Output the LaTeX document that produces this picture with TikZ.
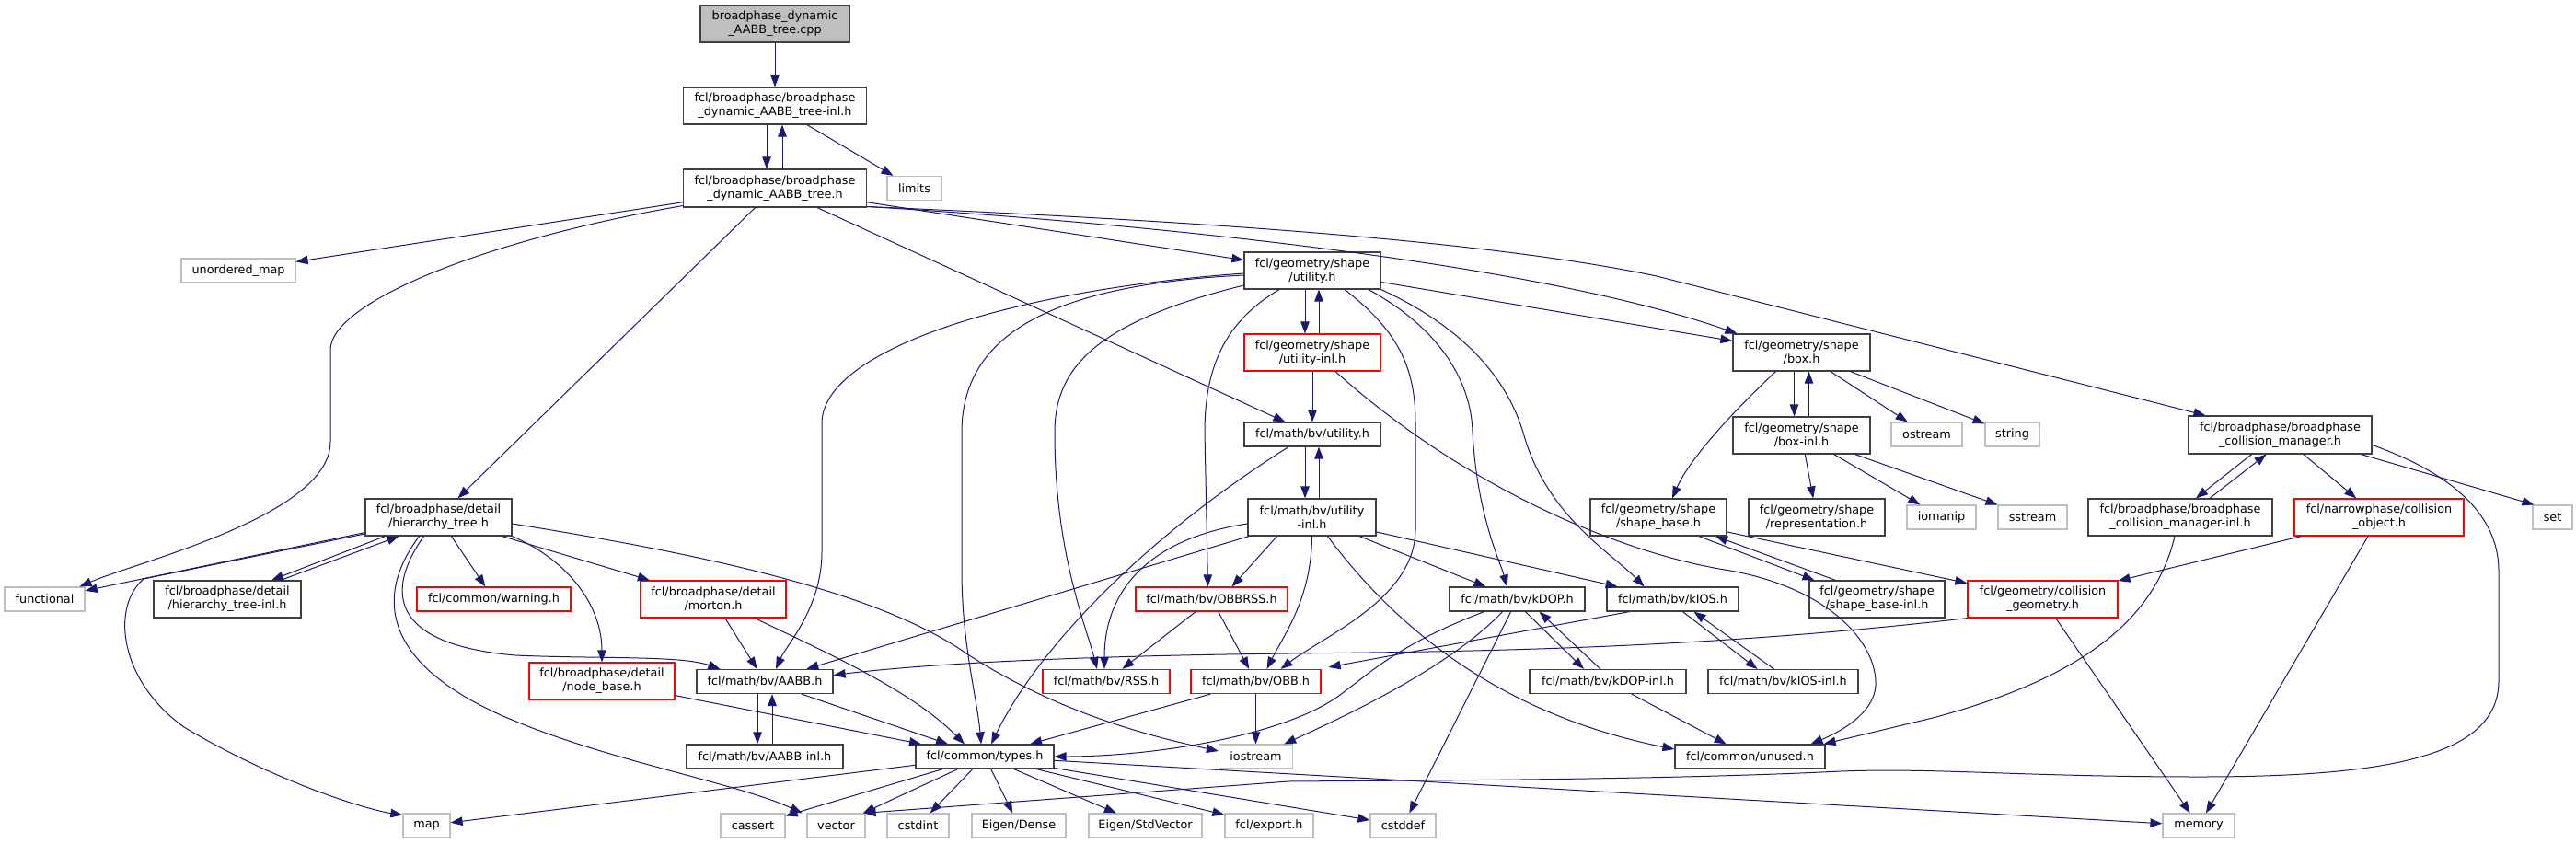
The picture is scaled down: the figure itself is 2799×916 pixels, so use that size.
\documentclass[tikz,border=0pt]{standalone}
\usepackage{fontspec}
\setmainfont{DejaVu Sans}
\usetikzlibrary{arrows.meta,calc}
\definecolor{edgec}{HTML}{191970}
\definecolor{bord}{HTML}{404040}
\definecolor{rbord}{HTML}{FF0000}
\definecolor{gbord}{HTML}{BFBFBF}
\definecolor{cppfill}{HTML}{BFBFBF}
\newcommand\nfs{\fontsize{12.8}{15}\selectfont}
\tikzset{
  base/.style={rectangle, inner sep=0pt, align=center, font=\nfs, line width=1.2pt, fill=white},
  bnode/.style={base, draw=bord},
  rnode/.style={base, draw=rbord},
  gnode/.style={base, draw=gbord, minimum height=26},
  cppnode/.style={base, draw=bord, fill=cppfill},
  edg/.style={draw=edgec, line width=1pt, -{Triangle[length=13pt,width=9.5pt]}},
}
\begin{document}
\begin{tikzpicture}[x=1pt,y=-1pt]
\useasboundingbox (0,0) rectangle (2799,916);
% ---------- nodes
\node[cppnode, minimum width=162, minimum height=40] (cpp) at (842,26) {broadphase\_dynamic\\\_AABB\_tree.cpp};
\node[bnode, minimum width=199, minimum height=40] (inl) at (842,115) {fcl/broadphase/broadphase\\\_dynamic\_AABB\_tree-inl.h};
\node[bnode, minimum width=199, minimum height=41] (tree) at (842,204.5) {fcl/broadphase/broadphase\\\_dynamic\_AABB\_tree.h};
\node[gnode, minimum width=59] (limits) at (993.5,204.5) {limits};
\node[gnode, minimum width=124] (umap) at (259,294) {unordered\_map};
\node[gnode, minimum width=87] (func) at (48.5,651) {functional};
\node[bnode, minimum width=148, minimum height=40] (gsu) at (1426,294) {fcl/geometry/shape\\/utility.h};
\node[rnode, minimum width=148, minimum height=40] (gui) at (1426,383) {fcl/geometry/shape\\/utility-inl.h};
\node[bnode, minimum width=149, minimum height=40] (box) at (1957.5,383) {fcl/geometry/shape\\/box.h};
\node[bnode, minimum width=148, minimum height=26] (mbu) at (1426,472) {fcl/math/bv/utility.h};
\node[bnode, minimum width=139, minimum height=40] (mbui) at (1425.5,562) {fcl/math/bv/utility\\-inl.h};
\node[bnode, minimum width=149, minimum height=40] (boxi) at (1957.5,473) {fcl/geometry/shape\\/box-inl.h};
\node[gnode, minimum width=77] (ostream) at (2093.5,472) {ostream};
\node[gnode, minimum width=59] (string) at (2186.5,472) {string};
\node[bnode, minimum width=199, minimum height=41] (cm) at (2477.5,472.5) {fcl/broadphase/broadphase\\\_collision\_manager.h};
\node[bnode, minimum width=159, minimum height=40] (ht) at (476.5,562) {fcl/broadphase/detail\\/hierarchy\_tree.h};
\node[bnode, minimum width=160, minimum height=40] (hti) at (247,651) {fcl/broadphase/detail\\/hierarchy\_tree-inl.h};
\node[rnode, minimum width=167, minimum height=26] (warn) at (536.5,651) {fcl/common/warning.h};
\node[rnode, minimum width=158, minimum height=40] (morton) at (775,651) {fcl/broadphase/detail\\/morton.h};
\node[rnode, minimum width=158, minimum height=40] (nbase) at (654,740) {fcl/broadphase/detail\\/node\_base.h};
\node[gnode, minimum width=51] (map) at (463.5,897) {map};
\node[bnode, minimum width=148, minimum height=26] (aabb) at (831,740.5) {fcl/math/bv/AABB.h};
\node[bnode, minimum width=170, minimum height=26] (aabbi) at (831,822) {fcl/math/bv/AABB-inl.h};
\node[bnode, minimum width=150, minimum height=26] (types) at (1070,822) {fcl/common/types.h};
\node[rnode, minimum width=138, minimum height=26] (rss) at (1202,740.5) {fcl/math/bv/RSS.h};
\node[rnode, minimum width=141, minimum height=26] (obb) at (1364.5,740.5) {fcl/math/bv/OBB.h};
\node[rnode, minimum width=165, minimum height=26] (obbrss) at (1316.5,651) {fcl/math/bv/OBBRSS.h};
\node[gnode, minimum width=80] (iostream) at (1364.5,822) {iostream};
\node[gnode, minimum width=70] (cassert) at (818,897) {cassert};
\node[gnode, minimum width=63] (vector) at (908.5,897) {vector};
\node[gnode, minimum width=67] (cstdint) at (997.5,897) {cstdint};
\node[gnode, minimum width=102] (edense) at (1107,897) {Eigen/Dense};
\node[gnode, minimum width=123] (estd) at (1244.5,897) {Eigen/StdVector};
\node[gnode, minimum width=96] (export) at (1379,897) {fcl/export.h};
\node[gnode, minimum width=71] (cstddef) at (1524.5,897) {cstddef};
\node[bnode, minimum width=147, minimum height=26] (kdop) at (1648.5,651) {fcl/math/bv/kDOP.h};
\node[bnode, minimum width=143, minimum height=26] (kios) at (1817.5,651) {fcl/math/bv/kIOS.h};
\node[bnode, minimum width=170, minimum height=26] (kdopi) at (1747,740.5) {fcl/math/bv/kDOP-inl.h};
\node[bnode, minimum width=163, minimum height=26] (kiosi) at (1937.5,740.5) {fcl/math/bv/kIOS-inl.h};
\node[bnode, minimum width=163, minimum height=26] (unused) at (1901.5,822) {fcl/common/unused.h};
\node[bnode, minimum width=148, minimum height=40] (sb) at (1802,562) {fcl/geometry/shape\\/shape\_base.h};
\node[bnode, minimum width=148, minimum height=40] (rep) at (1974,562) {fcl/geometry/shape\\/representation.h};
\node[bnode, minimum width=147, minimum height=40] (sbi) at (2039.5,651) {fcl/geometry/shape\\/shape\_base-inl.h};
\node[gnode, minimum width=75] (iomanip) at (2109.5,562) {iomanip};
\node[gnode, minimum width=75] (sstream) at (2208.5,562) {sstream};
\node[bnode, minimum width=200, minimum height=40] (cminl) at (2369,562) {fcl/broadphase/broadphase\\\_collision\_manager-inl.h};
\node[rnode, minimum width=184, minimum height=40] (co) at (2585,562) {fcl/narrowphase/collision\\\_object.h};
\node[gnode, minimum width=43] (set) at (2773.5,562) {set};
\node[rnode, minimum width=163, minimum height=40] (cg) at (2219.5,651) {fcl/geometry/collision\\\_geometry.h};
\node[gnode, minimum width=78] (memory) at (2389,897) {memory};
% ---------- edges
\draw[edg] (cpp) -- (inl);
\draw[edg] ($(inl.south)+(-9,0)$) -- ($(tree.north)+(-9,0)$);
\draw[edg] ($(tree.north)+(8,0)$) -- ($(inl.south)+(8,0)$);
\draw[edg] (inl) -- (limits);
\draw[edg] (tree) -- (umap);
\draw[edg] ($(tree.west)+(0,19)$) .. controls (520,262) and (359,330) .. (359,380) -- (359,480) .. controls (359,560) and (150,610) .. ($(func.north)+(38,0)$);
\draw[edg] (tree) -- (ht);
\draw[edg] (tree) -- (mbu);
\draw[edg] (tree) -- (gsu);
\draw[edg] ($(tree.east)+(0,20)$) .. controls (1200,240) and (1650,280) .. ($(box.north west)+(5,0)$);
\draw[edg] ($(tree.east)+(0,20)$) .. controls (1250,238) and (1600,258) .. (1800,300) -- ($(cm.north west)+(19,0)$);
% geometry/shape/utility.h
\draw[edg] ($(gsu.south)+(-8,0)$) -- ($(gui.north)+(-8,0)$);
\draw[edg] ($(gui.north)+(7,0)$) -- ($(gsu.south)+(7,0)$);
\draw[edg] (gui) -- (mbu);
\draw[edg] ($(gui.south)+(25,0)$) .. controls (1580,520) and (1750,600) .. (1880,620) .. controls (1990,640) and (2040,700) .. (2038,745) .. controls (2036,775) and (2000,795) .. ($(unused.north)+(66,0)$);
\draw[edg] ($(gsu.west)+(0,3)$) .. controls (1100,315) and (893,380) .. (893,460) -- (893,600) .. controls (893,660) and (855,700) .. ($(aabb.north)+(12,0)$);
\draw[edg] ($(gsu.west)+(0,5)$) .. controls (1130,310) and (1045,370) .. (1045,470) -- (1045,620) .. controls (1045,700) and (1062,760) .. ($(types.north)+(-4,0)$);
\draw[edg] ($(gsu.west)+(0,16)$) .. controls (1190,350) and (1146,400) .. (1146,470) .. controls (1146,600) and (1180,680) .. ($(rss.north)+(-10,0)$);
\draw[edg] ($(gsu.south)+(-36,0)$) .. controls (1330,350) and (1309,400) .. (1309,470) -- ($(obbrss.north)+(-4,0)$);
\draw[edg] ($(gsu.south)+(35,0)$) .. controls (1520,360) and (1538,400) .. (1538,460) -- (1538,575) .. controls (1538,650) and (1440,690) .. ($(obb.north)+(27,0)$);
\draw[edg] ($(gsu.south)+(61,0)$) .. controls (1570,360) and (1599,420) .. (1600,470) .. controls (1605,560) and (1630,610) .. ($(kdop.north)+(-11,0)$);
\draw[edg] ($(gsu.south east)+(0,0)$) .. controls (1600,360) and (1640,420) .. (1655,470) .. controls (1680,560) and (1750,600) .. ($(kios.north)+(-31,0)$);
\draw[edg] (gsu) -- (box);
% math/bv/utility
\draw[edg] ($(mbu.south)+(-8,0)$) -- ($(mbui.north)+(-7.5,0)$);
\draw[edg] ($(mbui.north)+(7.5,0)$) -- ($(mbu.south)+(7,0)$);
\draw[edg] ($(mbu.south)+(-26,0)$) .. controls (1250,580) and (1130,700) .. ($(types.north)+(7,0)$);
\draw[edg] (mbui) -- (aabb);
\draw[edg] ($(mbui.west)+(0,7)$) .. controls (1250,585) and (1200,640) .. ($(rss.north)+(-2,0)$);
\draw[edg] ($(mbui.south)+(-38,0)$) -- ($(obbrss.north)+(22,0)$);
\draw[edg] (mbui.south) .. controls (1425,650) and (1395,690) .. ($(obb.north)+(12,0)$);
\draw[edg] (mbui) -- (kdop);
\draw[edg] (mbui) -- (kios);
\draw[edg] ($(mbui.south)+(17,0)$) .. controls (1530,700) and (1650,780) .. ($(unused.west)+(0,-8)$);
% hierarchy tree
\draw[edg] (ht) -- (func);
\draw[edg] ($(ht.west)+(0,18)$) -- (156,629) .. controls (120,660) and (130,740) .. (200,790) .. controls (300,850) and (400,880) .. ($(map.north west)+(0,2)$);
\draw[edg] ($(ht.south)+(-58,0)$) -- ($(hti.north)+(48,0)$);
\draw[edg] ($(hti.north)+(58,0)$) -- ($(ht.south)+(-43,0)$);
\draw[edg] (ht) -- (warn);
\draw[edg] (ht) -- (morton);
\draw[edg] (ht.south east) .. controls (620,610) and (654,660) .. (nbase.north);
\draw[edg] ($(ht.south)+(-16,0)$) .. controls (420,640) and (420,700) .. (560,712) .. controls (650,716) and (740,712) .. ($(aabb.north west)+(26,0)$);
\draw[edg] ($(ht.south)+(-21,0)$) .. controls (405,650) and (420,720) .. (540,775) .. controls (650,825) and (800,850) .. ($(vector.north west)+(-5,0)$);
\draw[edg] ($(ht.east)+(0,7)$) .. controls (750,600) and (950,640) .. (1050,710) .. controls (1150,775) and (1250,800) .. ($(iostream.west)+(0,-6)$);
% morton, node base, AABB
\draw[edg] (morton) -- (aabb);
\draw[edg] ($(morton.south)+(45,0)$) .. controls (900,710) and (990,750) .. ($(types.north)+(-22,0)$);
\draw[edg] (nbase) -- (types);
\draw[edg] ($(aabb.south)+(-8,0)$) -- ($(aabbi.north)+(-8,0)$);
\draw[edg] ($(aabbi.north)+(8,0)$) -- ($(aabb.south)+(8,0)$);
\draw[edg] (aabb) -- (types);
% types
\draw[edg] (types) -- (map);
\draw[edg] (types) -- (cassert);
\draw[edg] (types) -- (vector);
\draw[edg] (types) -- (cstdint);
\draw[edg] (types) -- (edense);
\draw[edg] (types) -- (estd);
\draw[edg] (types) -- (export);
\draw[edg] (types) -- (cstddef);
\draw[edg] (types) -- (memory);
% OBBRSS, OBB
\draw[edg] (obbrss) -- (rss);
\draw[edg] (obbrss) -- (obb);
\draw[edg] (obb) -- (types);
\draw[edg] (obb) -- (iostream);
% kDOP, kIOS
\draw[edg] ($(kdop.south)+(-36,0)$) .. controls (1520,700) and (1490,730) .. (1460,752) .. controls (1400,800) and (1250,822) .. (types.east);
\draw[edg] ($(kdop.south)+(-16,0)$) .. controls (1580,720) and (1480,770) .. ($(iostream.north east)+(-10,0)$);
\draw[edg] (kdop) -- (cstddef);
\draw[edg] ($(kdop.south)+(9,0)$) -- ($(kdopi.north)+(-26,0)$);
\draw[edg] ($(kdopi.north)+(-8,0)$) -- ($(kdop.south)+(24,0)$);
\draw[edg] ($(kios.south)+(11,0)$) -- ($(kiosi.north)+(-28,0)$);
\draw[edg] ($(kiosi.north)+(-10,0)$) -- ($(kios.south)+(23,0)$);
\draw[edg] ($(kios.south)+(-47,0)$) -- ($(obb.north east)+(8,-2)$);
\draw[edg] (kdopi) -- (unused);
% shape base, box
\draw[edg] ($(sb.south)+(44,0)$) -- ($(sbi.north)+(-68,0)$);
\draw[edg] ($(sbi.north)+(-45,0)$) -- ($(sb.south)+(62,0)$);
\draw[edg] (sb) -- (cg);
\draw[edg] ($(box.south)+(-28,0)$) .. controls (1880,450) and (1835,500) .. ($(sb.north)+(15,0)$);
\draw[edg] ($(box.south)+(-8,0)$) -- ($(boxi.north)+(-8,0)$);
\draw[edg] ($(boxi.north)+(8,0)$) -- ($(box.south)+(8,0)$);
\draw[edg] (box) -- (ostream);
\draw[edg] (box) -- (string);
\draw[edg] (boxi) -- (rep);
\draw[edg] (boxi) -- (iomanip);
\draw[edg] (boxi) -- (sstream);
% collision manager
\draw[edg] ($(cm.south)+(-31,0)$) -- ($(cminl.north)+(17,0)$);
\draw[edg] ($(cminl.north)+(32,0)$) -- ($(cm.south)+(-15,0)$);
\draw[edg] (cm) -- (co);
\draw[edg] ($(cm.south)+(88,0)$) -- ($(set.north west)+(2,0)$);
\draw[edg] ($(cm.east)+(0,11)$) .. controls (2680,520) and (2715,570) .. (2715,620) -- (2715,740) .. controls (2715,820) and (2600,844) .. (2390,844) .. controls (2200,844) and (2100,834) .. (2000,838) .. controls (1800,848) and (1500,848) .. (1400,849) -- ($(vector.north east)+(-2,0)$);
\draw[edg] ($(cminl.south)+(-6,0)$) .. controls (2340,680) and (2250,740) .. (2100,780) -- ($(unused.north east)+(-2,0)$);
\draw[edg] (co) -- (cg);
\draw[edg] (co) -- (memory);
\draw[edg] (cg) -- (memory);
\draw[edg] (cg.south west) .. controls (1850,705) and (1600,708) .. (1400,710) .. controls (1150,713) and (1000,722) .. ($(aabb.east)+(0,-7)$);
\end{tikzpicture}
\end{document}
